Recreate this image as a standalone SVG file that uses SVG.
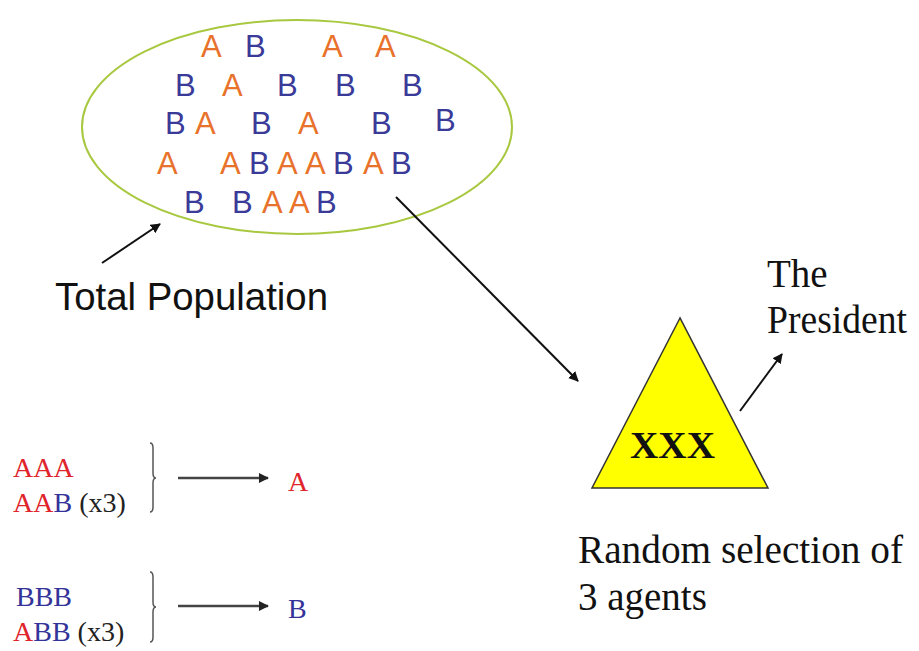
<svg xmlns="http://www.w3.org/2000/svg" width="919" height="651" viewBox="0 0 919 651">
<style>
.a{font-family:"Liberation Sans",Arial,sans-serif;font-size:31px;fill:#E8722C}
.b{font-family:"Liberation Sans",Arial,sans-serif;font-size:31px;fill:#3A3A98}
.lbl{font-family:"Liberation Sans",Arial,sans-serif;font-size:38px;fill:#111}
.ser{font-family:"Liberation Serif","Times New Roman",serif;font-size:39px;fill:#111}
.sm{font-family:"Liberation Serif","Times New Roman",serif;font-size:28px}
.r{fill:#E0242C}
.bl{fill:#333399}
.k{fill:#222}
.ln{stroke:#111;stroke-width:2;fill:none}
.gl{stroke:#444;stroke-width:2.5;fill:none}
</style>
<defs>
<marker id="ah" viewBox="0 0 10 10" refX="9" refY="5" markerWidth="10" markerHeight="10" markerUnits="userSpaceOnUse" orient="auto">
<path d="M0,0 L10,5 L0,10 z" fill="#111"/>
</marker>
<marker id="ah2" viewBox="0 0 10 10" refX="9" refY="5" markerWidth="11" markerHeight="10" markerUnits="userSpaceOnUse" orient="auto">
<path d="M0,0 L10,5 L0,10 z" fill="#222"/>
</marker>
</defs>
<rect width="919" height="651" fill="#fff"/>

<g id="population">
<ellipse cx="297" cy="127" rx="215" ry="107" fill="none" stroke="#A8C840" stroke-width="2"/>
<text class="a" x="201" y="57">A</text>
<text class="b" x="245" y="57">B</text>
<text class="a" x="322" y="57">A</text>
<text class="a" x="375" y="57">A</text>
<text class="b" x="175" y="96">B</text>
<text class="a" x="222" y="96">A</text>
<text class="b" x="277" y="96">B</text>
<text class="b" x="335" y="96">B</text>
<text class="b" x="402" y="96">B</text>
<text class="b" x="165" y="134">B</text>
<text class="a" x="195" y="134">A</text>
<text class="b" x="251" y="134">B</text>
<text class="a" x="298" y="134">A</text>
<text class="b" x="371" y="134">B</text>
<text class="b" x="435" y="131">B</text>
<text class="a" x="157" y="174">A</text>
<text class="a" x="220" y="174">A</text>
<text class="b" x="249" y="174">B</text>
<text class="a" x="277" y="174">A</text>
<text class="a" x="305" y="174">A</text>
<text class="b" x="333" y="174">B</text>
<text class="a" x="363" y="174">A</text>
<text class="b" x="391" y="174">B</text>
<text class="b" x="184" y="213">B</text>
<text class="b" x="232" y="213">B</text>
<text class="a" x="262" y="213">A</text>
<text class="a" x="289" y="213">A</text>
<text class="b" x="316" y="213">B</text>
</g>

<g id="total-label">
<text class="lbl" x="55" y="310" textLength="273" lengthAdjust="spacingAndGlyphs">Total Population</text>
</g>

<g id="triangle">
<polygon points="680,318 592,488 768,488" fill="#FFFF00" stroke="#333" stroke-width="1.5"/>
<text x="630" y="458" font-family="'Liberation Serif','Times New Roman',serif" font-size="37" font-weight="bold" fill="#111" textLength="85" lengthAdjust="spacingAndGlyphs">XXX</text>
</g>

<g id="president-label">
<text class="ser" x="767" y="287">The</text>
<text class="ser" x="767" y="333" textLength="140" lengthAdjust="spacingAndGlyphs">President</text>
</g>

<g id="random-label">
<text class="ser" x="578" y="563" textLength="325" lengthAdjust="spacingAndGlyphs">Random selection of</text>
<text class="ser" x="578" y="610">3 agents</text>
</g>

<g id="rule-a">
<text class="sm r" x="13" y="477">AAA</text>
<text class="sm" x="13" y="512"><tspan class="r">AA</tspan><tspan class="bl">B</tspan><tspan class="k"> (x3)</tspan></text>
<path d="M150,443 Q153,443 153,448 L153,473 Q153,478 156,478 Q153,478 153,483 L153,507 Q153,512 150,512" stroke="#555" stroke-width="1.5" fill="none"/>
<text class="sm r" x="288" y="491">A</text>
</g>

<g id="rule-b">
<text class="sm bl" x="16" y="606">BBB</text>
<text class="sm" x="13" y="641"><tspan class="r">A</tspan><tspan class="bl">BB</tspan><tspan class="k"> (x3)</tspan></text>
<path d="M150,572 Q153,572 153,577 L153,602 Q153,607 156,607 Q153,607 153,612 L153,637 Q153,642 150,642" stroke="#555" stroke-width="1.5" fill="none"/>
<text class="sm bl" x="288" y="618">B</text>
</g>

<g id="connectors">
<line class="ln" x1="102" y1="263" x2="160" y2="224" marker-end="url(#ah)"/>
<line class="ln" x1="396" y1="197" x2="578" y2="381" stroke-width="1.5" marker-end="url(#ah)"/>
<line class="ln" x1="740" y1="411" x2="782" y2="354" stroke-width="1.5" marker-end="url(#ah)"/>
<line class="gl" x1="178" y1="478" x2="268" y2="478" marker-end="url(#ah2)"/>
<line class="gl" x1="178" y1="606" x2="268" y2="606" marker-end="url(#ah2)"/>
</g>
</svg>
